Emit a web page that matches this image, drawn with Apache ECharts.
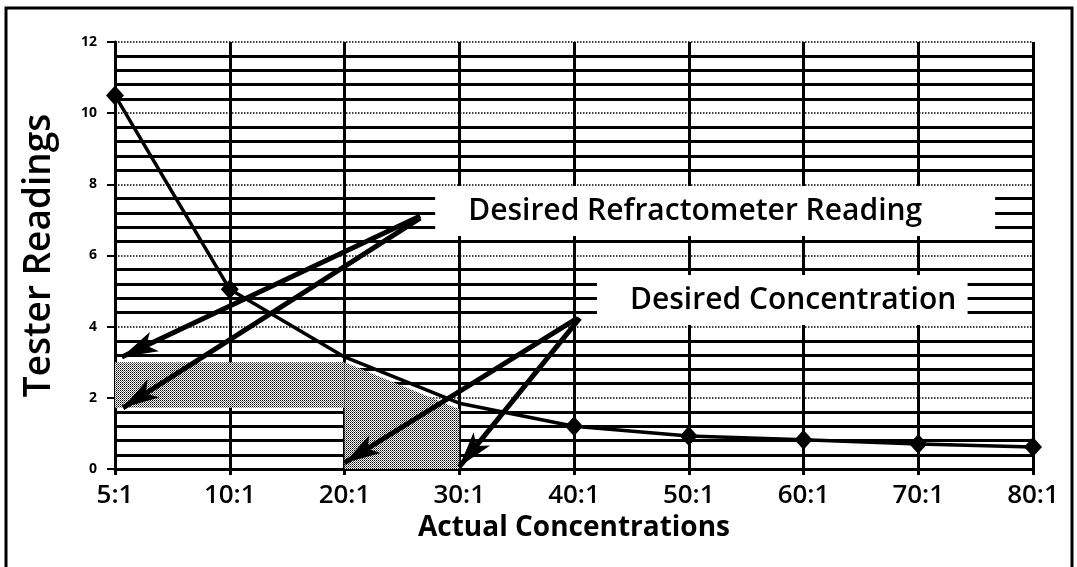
<!DOCTYPE html>
<html>
<head>
<meta charset="utf-8">
<script src="https://cdn.jsdelivr.net/npm/echarts@6/dist/echarts.min.js"></script>
<style>
html,body{margin:0;padding:0;background:#fff;}
#chart{width:1077px;height:567px;}
</style>
</head>
<body>
<div id="chart"></div>
<script>
// ---- data ----
const categories = ['5:1','10:1','20:1','30:1','40:1','50:1','60:1','70:1','80:1'];
const readings = [10.5, 5.05, 3.15, 1.85, 1.2, 0.93, 0.82, 0.7, 0.62];
const yMin = 0, yMax = 12, yInterval = 2;
const xTitle = 'Actual Concentrations';
const yTitle = 'Tester Readings';
// annotations (x in category index units, y in reading units)
const readingBandX = [0, 2];
const readingBandY = [1.72, 3.0];
const concX = [2, 3];
const concTop = [3.0, 1.68];
const box1Text = 'Desired Refractometer Reading';
const box1X = [2.79, 7.67];
const box1Y = [6.55, 7.95];
const box2Text = 'Desired Concentration';
const box2X = [4.2, 7.43];
const box2Y = [4.05, 5.45];
const arrows = [
  [[2.66, 7.11], [0.06, 3.15]],
  [[2.66, 7.05], [0.07, 1.72]],
  [[4.03, 4.24], [2.0, 0.17]],
  [[4.05, 4.24], [3.0, 0.06]]
];
const hiddenMarkers = [2, 3];

// stipple pattern
const pc = document.createElement('canvas');
pc.width = 2; pc.height = 2;
const pctx = pc.getContext('2d');
pctx.fillStyle = '#fff'; pctx.fillRect(0,0,2,2);
pctx.fillStyle = '#000'; pctx.fillRect(0,0,1,1);
pctx.fillStyle = '#666'; pctx.fillRect(1,1,1,1);
const stipple = {image: pc, repeat: 'repeat'};

const FONT = 'Open Sans';
const chart = echarts.init(document.getElementById('chart'));
chart.setOption({
  animation: false,
  backgroundColor: '#fff',
  textStyle: {fontFamily: FONT},
  grid: {left: 115, right: 44, top: 42, bottom: 98},
  xAxis: [{
    type: 'category', data: categories, boundaryGap: false,
    name: xTitle, nameLocation: 'middle', nameGap: 42,
    nameTextStyle: {fontSize: 28, fontWeight: 'bold', color: '#000', fontFamily: FONT},
    axisLine: {lineStyle: {color: '#000', width: 3}},
    axisTick: {show: true, length: 6, lineStyle: {color: '#000', width: 3}},
    axisLabel: {fontSize: 26, fontWeight: 600, color: '#000', margin: 14, fontFamily: FONT},
    splitLine: {show: true, lineStyle: {color: '#000', width: 3}}
  }, {
    type: 'value', min: 0, max: categories.length - 1, show: false
  }],
  yAxis: {
    type: 'value', min: yMin, max: yMax, interval: yInterval,
    name: yTitle, nameLocation: 'middle', nameGap: 57,
    nameTextStyle: {fontSize: 37, fontWeight: 600, color: '#000', fontFamily: FONT},
    axisLine: {show: true, lineStyle: {color: '#000', width: 3}},
    axisTick: {show: true, length: 8, lineStyle: {color: '#000', width: 2}},
    axisLabel: {fontSize: 14, fontWeight: 'bold', color: '#000', margin: 18, fontFamily: FONT},
    splitLine: {show: true, lineStyle: {color: '#000', width: 1.5, type: 'dotted'}},
    minorTick: {show: false, splitNumber: 5},
    minorSplitLine: {show: true, lineStyle: {color: '#000', width: 3}}
  },
  series: [
    { // shaded regions
      type: 'line', xAxisIndex: 1, z: 2,
      data: concX.map((x, i) => [x, concTop[i]]),
      symbol: 'none', lineStyle: {width: 0},
      areaStyle: {color: stipple, opacity: 1},
      markArea: {
        silent: true,
        itemStyle: {color: stipple},
        data: [[{coord: [readingBandX[0], readingBandY[0]]}, {coord: [readingBandX[1], readingBandY[1]]}]]
      }
    },
    { // text boxes
      type: 'line', xAxisIndex: 1, z: 3, data: [],
      markArea: {
        silent: true,
        itemStyle: {color: '#fff'},
        label: {show: true, position: 'insideLeft', distance: 33, fontSize: 30, fontWeight: 600, color: '#000', fontFamily: FONT},
        data: [
          [{name: box1Text, coord: [box1X[0], box1Y[0]]}, {coord: [box1X[1], box1Y[1]]}],
          [{name: box2Text, coord: [box2X[0], box2Y[0]]}, {coord: [box2X[1], box2Y[1]]}]
        ]
      }
    },
    { // data line
      type: 'line', z: 4, data: readings,
      symbol: 'diamond',
      symbolSize: (v, p) => hiddenMarkers.includes(p.dataIndex) ? 0 : [18, 20],
      itemStyle: {color: '#000'},
      lineStyle: {color: '#000', width: 3.5}
    },
    { // arrows
      type: 'line', xAxisIndex: 1, z: 5, data: [],
      markLine: {
        silent: true,
        symbol: ['none', 'arrow'],
        symbolSize: [16, 36],
        label: {show: false},
        lineStyle: {color: '#000', width: 5, type: 'solid'},
        data: arrows.map(a => [{coord: a[0]}, {coord: a[1]}])
      }
    }
  ],
  graphic: [{
    type: 'rect', silent: true, z: 100,
    shape: {x: 6, y: 8, width: 1066, height: 640},
    style: {fill: null, stroke: '#000', lineWidth: 3}
  }]
});
</script>
</body>
</html>
